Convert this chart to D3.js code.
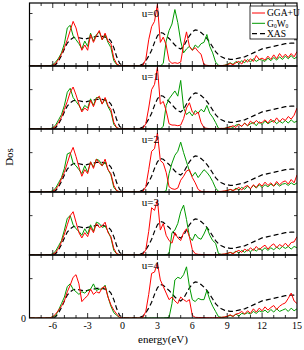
<!DOCTYPE html>
<html>
<head>
<meta charset="utf-8">
<script src="https://cdn.jsdelivr.net/npm/d3@7"></script>
<style>
  body { margin: 0; background: #fff; }
  svg text { font-family: "Liberation Serif", "Times New Roman", serif; fill: #000; }
</style>
</head>
<body>
<svg width="304" height="350"></svg>
<script>
// energy grid, eV (-8 .. 15, step 0.25)
const energy = d3.range(0, 93).map(i => -8 + i * 0.25);

const panelLabels = ['u=0', 'u=1', 'u=2', 'u=3', 'u=4'];
const xTicks = [-6, -3, 0, 3, 6, 9, 12, 15];

// experimental XAS (same in every panel)
const xas = [
  0,0,0,0,0,0,0,0,
  0.02,0.1,0.4,0.8,1.3,1.75,2.0,2.15,
  2.2,2.15,2.1,2.05,2.1,2.15,2.2,2.25,
  2.25,2.25,2.2,2.15,1.9,1.4,0.7,0.2,
  0.05,0,0,0,0,0,0.05,0.15,
  0.4,0.75,1.2,1.8,2.3,2.55,2.5,2.3,
  2.1,1.85,1.6,1.4,1.3,1.5,1.9,2.3,
  2.6,2.75,2.7,2.55,2.35,2.1,1.8,1.45,
  1.1,0.85,0.7,0.6,0.55,0.5,0.5,0.55,
  0.6,0.65,0.7,0.8,0.9,1.0,1.1,1.2,
  1.3,1.35,1.4,1.45,1.5,1.55,1.6,1.65,
  1.7,1.7,1.75,1.75,1.8
];

// GGA+U
const ggaU0 = [
  0,0,0,0,0,0,0,0,
  0.05,0.2,0.5,0.9,1.4,2.0,2.7,3.4,
  2.9,2.0,1.2,1.6,1.2,2.4,1.8,2.3,
  2.7,2.0,2.5,1.9,1.7,0.6,0.15,0.03,
  0,0,0,0,0,0,0,0.05,
  0.5,2.0,3.0,3.4,4.7,1.8,2.2,1.6,
  0.4,0.2,0.25,0.2,0.3,1.6,2.6,1.5,
  1.2,1.4,1.1,0.9,0.1,0.05,0.03,0.02,
  0.02,0.02,0.03,0.05,0.08,0.2,0.1,0.25,
  0.35,0.15,0.5,0.3,0.55,0.35,0.8,0.5,
  0.6,0.45,0.75,0.5,0.85,0.55,0.95,0.65,
  0.9,0.65,0.95,0.7,1.1
];
const ggaU1 = [
  0,0,0,0,0,0,0,0,
  0.05,0.2,0.5,0.9,1.5,2.1,2.8,3.2,
  2.6,1.9,1.3,1.6,1.4,2.2,1.7,2.3,
  2.5,1.9,2.4,1.8,1.5,0.5,0.1,0.02,
  0,0,0,0,0,0,0,0.05,
  0.4,1.6,3.0,3.4,4.7,1.9,2.1,1.4,
  0.4,0.3,0.3,0.25,0.3,0.8,1.6,2.0,
  1.3,1.1,1.3,0.5,0.1,0.05,0.03,0.02,
  0.02,0.03,0.05,0.04,0.1,0.15,0.25,0.12,
  0.35,0.2,0.45,0.25,0.6,0.4,0.65,0.45,
  0.5,0.7,0.45,0.75,0.5,0.85,0.55,0.8,
  0.65,0.95,0.75,1.05,1.6
];
const ggaU2 = [
  0,0,0,0,0,0,0,0,
  0.05,0.2,0.5,1.0,1.5,2.2,2.9,3.4,
  2.7,1.9,1.2,1.7,1.4,2.3,1.8,2.5,
  2.2,2.0,2.5,1.7,1.4,0.5,0.1,0.02,
  0,0,0,0,0,0,0,0.05,
  0.4,1.7,3.1,3.3,4.5,2.4,2.2,1.5,
  0.4,0.25,0.2,0.3,0.9,1.2,1.6,1.7,
  1.1,0.7,0.2,0.05,0.03,0.03,0.02,0.02,
  0.02,0.03,0.05,0.08,0.1,0.2,0.12,0.2,
  0.35,0.15,0.4,0.5,0.25,0.55,0.35,0.65,
  0.45,0.75,0.5,0.7,0.45,0.8,0.55,0.75,
  0.85,0.6,0.95,0.7,1.3
];
const ggaU3 = [
  0,0,0,0,0,0,0,0,
  0.05,0.2,0.5,1.0,1.6,2.3,3.0,3.3,
  2.5,1.7,1.3,1.7,1.4,2.1,1.7,2.4,
  2.1,2.2,2.5,1.7,1.4,0.5,0.1,0.02,
  0,0,0,0,0,0,0,0.05,
  0.4,1.8,3.6,3.4,4.2,1.9,2.4,1.5,
  1.1,0.9,1.7,1.3,1.1,1.7,2.0,1.4,
  0.4,0.1,0.05,0.04,0.03,0.02,0.02,0.02,
  0.02,0.03,0.05,0.08,0.1,0.2,0.1,0.25,
  0.35,0.2,0.45,0.3,0.55,0.35,0.65,0.4,
  0.6,0.75,0.45,0.7,0.85,0.55,0.8,0.65,
  0.9,0.65,0.95,1.0,1.4
];
const ggaU4 = [
  0,0,0,0,0,0,0,0,
  0.1,0.3,0.6,0.9,1.3,2.0,2.5,3.1,
  3.3,2.6,1.25,1.5,1.7,2.2,1.8,2.0,
  1.9,2.3,2.4,1.6,1.0,0.6,0.3,0.05,
  0,0,0,0,0,0,0,0.05,
  0.5,1.8,3.4,3.5,4.2,2.9,2.4,1.9,
  1.4,1.6,1.3,1.1,1.6,1.4,1.25,1.4,
  0.2,0.05,0.04,0.03,0.03,0.02,0.02,0.02,
  0.02,0.03,0.05,0.08,0.12,0.25,0.12,0.3,
  0.35,0.5,0.3,0.55,0.35,0.7,0.45,0.75,
  0.55,0.85,0.6,0.8,0.95,0.65,0.9,1.05,
  1.15,1.5,1.9,1.3,1.1
];

// G0W0
const gw0 = [
  0,0,0,0,0,0,0,0.02,
  0.1,0.3,0.6,1.0,1.7,2.9,3.1,2.3,
  2.0,1.7,1.3,1.9,1.5,2.5,1.9,2.4,
  2.6,2.0,2.4,1.8,1.4,0.4,0.1,0.02,
  0,0,0,0,0,0,0,0,
  0,0,0,0,0,0,0.2,1.9,
  2.7,3.2,4.3,3.3,1.9,1.0,1.3,1.5,
  1.2,1.6,1.4,1.7,1.8,2.4,1.5,1.0,
  0.3,0.05,0.03,0.05,0.12,0.25,0.12,0.35,
  0.2,0.4,0.25,0.5,0.3,0.55,0.35,0.5,
  0.45,0.35,0.6,0.4,0.65,0.45,0.7,0.5,
  0.75,0.55,0.8,0.55,0.7
];
const gw1 = [
  0,0,0,0,0,0,0,0.02,
  0.1,0.3,0.7,1.1,1.8,2.8,3.1,2.4,
  2.1,1.8,1.4,1.8,1.6,2.3,1.8,2.4,
  2.4,1.9,2.3,1.7,1.3,0.35,0.08,0.02,
  0,0,0,0,0,0,0,0,
  0,0,0,0,0,0,0.2,1.8,
  2.3,2.6,2.9,2.5,3.7,1.6,1.1,1.3,
  1.0,1.4,1.2,1.5,1.3,1.8,1.2,0.9,
  0.5,0.05,0.03,0.05,0.1,0.2,0.12,0.3,
  0.35,0.2,0.45,0.25,0.4,0.5,0.25,0.55,
  0.35,0.6,0.4,0.55,0.65,0.4,0.6,0.45,
  0.65,0.45,0.7,0.5,0.6
];
const gw2 = [
  0,0,0,0,0,0,0,0.02,
  0.1,0.3,0.7,1.1,1.8,2.9,3.0,2.2,
  2.0,1.7,1.4,2.0,1.5,2.3,1.9,2.5,
  2.4,2.0,2.3,1.7,1.3,0.35,0.08,0.02,
  0,0,0,0,0,0,0,0,
  0,0,0,0,0,0,0,0.1,
  1.4,2.2,2.8,3.1,3.8,3.0,2.3,1.6,
  1.2,1.5,1.1,1.4,1.7,1.5,1.2,0.8,
  0.3,0.05,0.03,0.05,0.12,0.2,0.1,0.3,
  0.15,0.35,0.2,0.45,0.25,0.5,0.3,0.55,
  0.35,0.55,0.4,0.6,0.45,0.65,0.45,0.6,
  0.65,0.5,0.7,0.55,0.7
];
const gw3 = [
  0,0,0,0,0,0,0,0.02,
  0.1,0.3,0.7,1.1,1.9,2.8,3.0,2.3,
  2.0,1.8,1.5,2.0,1.6,2.3,1.8,2.5,
  2.4,2.1,2.2,1.8,1.3,0.35,0.08,0.02,
  0,0,0,0,0,0,0,0,
  0,0,0,0,0,0,0,0.02,
  0.1,1.7,1.9,2.4,3.3,3.8,2.7,1.4,
  1.1,1.6,1.3,1.2,1.6,2.1,1.5,1.1,
  0.9,0.1,0.05,0.05,0.12,0.2,0.12,0.3,
  0.15,0.35,0.2,0.4,0.25,0.45,0.3,0.5,
  0.35,0.55,0.35,0.55,0.4,0.6,0.45,0.65,
  0.5,0.65,0.45,0.65,0.55
];
const gw4 = [
  0,0,0,0,0,0,0,0.02,
  0.1,0.2,0.6,1.1,1.6,2.4,2.6,2.2,
  2.0,1.8,2.0,1.9,2.1,2.2,2.6,2.1,
  2.2,2.2,2.5,1.6,0.9,0.4,0.2,0.03,
  0,0,0,0,0,0,0,0,
  0,0,0,0,0,0,0,0.02,
  0.05,1.1,2.9,3.1,3.0,3.3,3.9,2.4,
  1.4,1.25,1.5,1.4,1.4,2.1,1.4,0.9,
  0.5,0.1,0.05,0.05,0.12,0.2,0.12,0.3,
  0.15,0.35,0.3,0.4,0.3,0.5,0.35,0.55,
  0.45,0.6,0.4,0.65,0.45,0.7,0.5,0.6,
  0.7,0.5,0.75,0.55,0.7
];

const ggaU = [ggaU0, ggaU1, ggaU2, ggaU3, ggaU4];
const gw = [gw0, gw1, gw2, gw3, gw4];
const yTicks = [[2, 4], [3], [3], [3], [3]];

const plotL = 29.5, plotR = 297, plotT = 3, panelH = 63;
const red = '#ff0000', green = '#009a00';

const svg = d3.select('svg');

const x = d3.scaleLinear().domain([-8, 15]).range([plotL, plotR]);
const y = d3.scaleLinear().domain([0, 4.8]).range([panelH, 0]);

const line = d3.line()
  .x((d, i) => x(energy[i]))
  .y(d => y(d));

const minor = d3.range(-7, 15).filter(v => v % 3 !== 0);

panelLabels.forEach((label, p) => {
  const g = svg.append('g')
    .attr('transform', `translate(0, ${plotT + p * panelH})`);

  g.append('clipPath').attr('id', 'clip' + p)
    .append('rect')
    .attr('x', plotL).attr('y', 0)
    .attr('width', plotR - plotL).attr('height', panelH);

  const plot = g.append('g').attr('clip-path', `url(#clip${p})`);

  plot.append('path')
    .attr('d', line(xas))
    .attr('fill', 'none')
    .attr('stroke', '#000')
    .attr('stroke-width', 1.2)
    .attr('stroke-dasharray', '5,3');

  plot.append('path')
    .attr('d', line(gw[p]))
    .attr('fill', 'none')
    .attr('stroke', green)
    .attr('stroke-width', 1);

  plot.append('path')
    .attr('d', line(ggaU[p]))
    .attr('fill', 'none')
    .attr('stroke', red)
    .attr('stroke-width', 1);

  // ticks on all four sides, pointing inward
  const ticks = g.append('g').attr('stroke', '#000').attr('stroke-width', 0.8);
  xTicks.filter(v => v < 15).forEach(v => {
    ticks.append('line').attr('x1', x(v)).attr('x2', x(v)).attr('y1', panelH).attr('y2', panelH - 5);
    ticks.append('line').attr('x1', x(v)).attr('x2', x(v)).attr('y1', 0).attr('y2', 5);
  });
  minor.forEach(v => {
    ticks.append('line').attr('x1', x(v)).attr('x2', x(v)).attr('y1', panelH).attr('y2', panelH - 3);
    ticks.append('line').attr('x1', x(v)).attr('x2', x(v)).attr('y1', 0).attr('y2', 3);
  });
  yTicks[p].forEach(v => {
    ticks.append('line').attr('x1', plotL).attr('x2', plotL + 3).attr('y1', y(v)).attr('y2', y(v));
    ticks.append('line').attr('x1', plotR).attr('x2', plotR - 3).attr('y1', y(v)).attr('y2', y(v));
  });

  g.append('rect')
    .attr('x', plotL).attr('y', 0)
    .attr('width', plotR - plotL).attr('height', panelH)
    .attr('fill', 'none')
    .attr('stroke', '#000')
    .attr('stroke-width', 1.2);

  g.append('text')
    .attr('x', 159).attr('y', 14)
    .attr('text-anchor', 'end')
    .style('font-size', '11px')
    .text(label);
});

// x tick labels
const plotB = plotT + 5 * panelH;
svg.append('g').selectAll('text')
  .data(xTicks)
  .enter().append('text')
  .attr('x', d => x(d))
  .attr('y', plotB + 11)
  .attr('text-anchor', 'middle')
  .style('font-size', '10px')
  .text(d => d);

svg.append('text')
  .attr('x', 26).attr('y', plotB + 3.5)
  .attr('text-anchor', 'end')
  .style('font-size', '10px')
  .text('0');

svg.append('text')
  .attr('x', 163).attr('y', 343)
  .attr('text-anchor', 'middle')
  .style('font-size', '11px')
  .text('energy(eV)');

svg.append('text')
  .attr('transform', 'translate(13, 157) rotate(-90)')
  .attr('text-anchor', 'middle')
  .style('font-size', '11px')
  .text('Dos');

// legend
const legend = svg.append('g');
legend.append('rect')
  .attr('x', 250).attr('y', 6)
  .attr('width', plotR - 250).attr('height', 33)
  .attr('fill', '#fff')
  .attr('stroke', '#000')
  .attr('stroke-width', 0.8);

const legendItems = [
  { name: 'GGA+U', color: red, dash: null },
  { name: 'G0W0', color: green, dash: null },
  { name: 'XAS', color: '#000', dash: '5,3' }
];
legendItems.forEach((d, i) => {
  const cy = 13 + i * 10.3;
  legend.append('line')
    .attr('x1', 252).attr('x2', 265)
    .attr('y1', cy).attr('y2', cy)
    .attr('stroke', d.color)
    .attr('stroke-width', d.dash ? 1.2 : 1)
    .attr('stroke-dasharray', d.dash);
  const t = legend.append('text')
    .attr('x', 267).attr('y', cy + 3.3)
    .style('font-size', '9.5px');
  if (d.name === 'G0W0') {
    t.append('tspan').text('G');
    t.append('tspan').attr('dy', 1.8).style('font-size', '5.5px').text('0');
    t.append('tspan').attr('dy', -1.8).text('W');
    t.append('tspan').attr('dy', 1.8).style('font-size', '5.5px').text('0');
  } else {
    t.text(d.name);
  }
});
</script>
</body>
</html>
